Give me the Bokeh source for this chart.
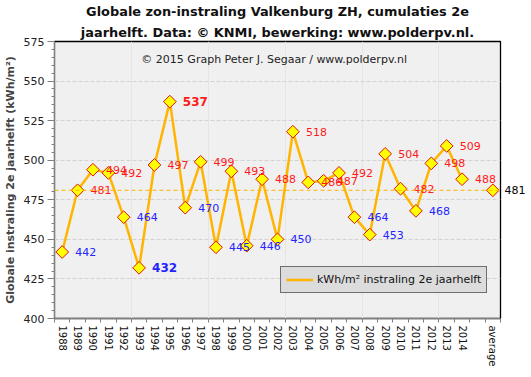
from math import pi
from bokeh.plotting import figure
from bokeh.models import (Range1d, LinearAxis, FixedTicker,
                          SingleIntervalTicker, Span, Label, Legend, LegendItem, Title,
                          ColumnDataSource)
from bokeh.core.properties import value
from bokeh.embed import file_html
from bokeh.resources import INLINE

years = ["1988", "1989", "1990", "1991", "1992", "1993", "1994", "1995", "1996", "1997",
         "1998", "1999", "2000", "2001", "2002", "2003", "2004", "2005", "2006", "2007",
         "2008", "2009", "2010", "2011", "2012", "2013", "2014"]
irradiation = [442, 481, 494, 492, 464, 432, 497, 537, 470, 499,
               445, 493, 446, 488, 450, 518, 486, 487, 492, 464,
               453, 504, 482, 468, 498, 509, 488]
average_label = "average"
average_value = 481
gap_factor = ""
factors = years + [gap_factor, average_label]

series_name = "kWh/m\u00b2 instraling 2e jaarhelft"
title_line1 = "Globale zon-instraling Valkenburg ZH, cumulaties 2e"
title_line2 = "jaarhelft. Data: \u00a9 KNMI, bewerking: www.polderpv.nl."
y_label = "Globale instraling 2e jaarhelft (kWh/m\u00b2)"
credit = "\u00a9 2015 Graph  Peter J. Segaar / www.polderpv.nl"

FONT = "DejaVu Sans"

# category slot centres (index-based positions of each factor)
pos = {f: i + 0.5 for i, f in enumerate(factors)}

p = figure(frame_width=446, frame_height=277, x_range=Range1d(0, len(factors)),
           y_range=Range1d(400, 575), x_axis_location=None,
           output_backend="svg", toolbar_location=None,
           min_border_left=43, min_border_right=26, min_border_top=35, min_border_bottom=47,
           title=title_line1)
p.background_fill_color = "#f0f0f0"
p.border_fill_color = "white"
p.outline_line_color = "black"
p.outline_line_width = 1.3

p.title.text_font = FONT
p.title.text_font_size = "12.9px"
p.title.text_font_style = "bold"
p.title.align = "center"
p.title.offset = -8
p.title.standoff = 3
p.title.text_color = "#111111"
t2 = Title(text=title_line2, text_font=FONT, text_font_size="12.9px", text_font_style="bold",
           align="center", offset=-4, standoff=4, text_color="#111111")
p.add_layout(t2, "above")

# y axis
ya = p.yaxis[0]
ya.ticker = SingleIntervalTicker(interval=25, num_minor_ticks=5)
ya.axis_label = y_label
ya.axis_label_text_font = FONT
ya.axis_label_text_font_size = "11px"
ya.axis_label_text_font_style = "bold"
ya.axis_label_standoff = 4
ya.major_label_text_font = FONT
ya.major_label_text_font_size = "11px"
ya.major_label_text_color = "#222222"
ya.major_label_standoff = 3
ya.axis_line_color = "#808080"
ya.major_tick_line_color = "#808080"
ya.minor_tick_line_color = "#808080"
ya.major_tick_out = 7
ya.major_tick_in = 0
ya.minor_tick_out = 3
ya.minor_tick_in = 0
p.ygrid.grid_line_color = "#d2d2d2"
p.ygrid.grid_line_dash = "4 2"

# right-hand label for the average value (outside the frame)
avg_axis = LinearAxis(ticker=FixedTicker(ticks=[average_value], minor_ticks=[]),
                      axis_line_color=None, major_tick_line_color=None,
                      major_tick_out=0, major_tick_in=0,
                      minor_tick_line_color=None, minor_tick_out=0, minor_tick_in=0,
                      major_label_standoff=4, major_label_text_font=FONT,
                      major_label_text_font_size="11px", major_label_text_color="black")
p.add_layout(avg_axis, "right")

# x axis: boundary ticks (as minor ticks) + category labels
tick_axis = LinearAxis(ticker=FixedTicker(ticks=[], minor_ticks=list(range(len(factors) + 1))),
                       axis_line_color="#808080", major_tick_line_color=None,
                       major_tick_out=0, major_tick_in=0,
                       minor_tick_line_color="#808080", minor_tick_out=4, minor_tick_in=0,
                       major_label_standoff=0)
p.add_layout(tick_axis, "below")
label_axis = LinearAxis(ticker=FixedTicker(ticks=[pos[f] for f in factors], minor_ticks=[]),
                        major_label_overrides={pos[f]: f for f in factors},
                        major_label_orientation="vertical", major_tick_line_color=None,
                        major_tick_out=0, major_tick_in=0,
                        minor_tick_line_color=None, minor_tick_out=0, minor_tick_in=0,
                        axis_line_color=None, major_label_standoff=3,
                        major_label_text_font=FONT, major_label_text_font_size="10px",
                        major_label_text_color="#111111")
p.add_layout(label_axis, "below")

# average line
p.add_layout(Span(location=average_value, dimension="width", line_color="#ffb300",
                  line_dash="4 3", line_width=1))

year_x = [pos[y] for y in years]
line_r = p.line(x=year_x, y=irradiation, line_color="#ffb400", line_width=2.5)
pts_x = year_x + [pos[average_label]]
pts_y = irradiation + [average_value]
p.scatter(x=pts_x, y=pts_y, marker="square", angle=pi / 4, size=9,
          fill_color="#ffff00", line_color="#dd1010", line_width=1)

# value labels
vmax, vmin = max(irradiation), min(irradiation)
normal = dict(x=[], y=[], t=[], c=[])
bold = dict(x=[], y=[], t=[], c=[])
for yr, v in zip(years, irradiation):
    d = bold if v in (vmax, vmin) else normal
    d["x"].append(pos[yr])
    d["y"].append(v)
    d["t"].append(str(v))
    d["c"].append("#ff1a1a" if v >= average_value else "#2424ff")
p.text(x="x", y="y", text="t", text_color="c", source=ColumnDataSource(normal),
       x_offset=13, text_baseline="middle", text_align="left",
       text_font=value(FONT), text_font_size="11px")
p.text(x="x", y="y", text="t", text_color="c", source=ColumnDataSource(bold),
       x_offset=13, text_baseline="middle", text_align="left",
       text_font=value(FONT), text_font_size="12px", text_font_style="bold")

p.add_layout(Label(x=14.4, y=563.5, text=credit, text_align="center", text_baseline="middle",
                   text_font=FONT, text_font_size="11px", text_color="#222222"))

leg_marker = p.scatter(x=[], y=[], marker="square", angle=pi / 4, size=5,
                       fill_color="#ffff00", line_color="#dd1010")
legend = Legend(items=[LegendItem(label=series_name, renderers=[line_r, leg_marker])],
                location=(226, 25), background_fill_color="#dcdcdc", background_fill_alpha=1,
                border_line_color="black", border_line_width=1, padding=5, spacing=0, margin=0,
                glyph_width=27, glyph_height=15, label_height=15, label_standoff=4,
                label_text_font=FONT, label_text_font_size="11px", label_text_color="#111111")
p.add_layout(legend)

open("out.html", "w").write(file_html(p, INLINE))
